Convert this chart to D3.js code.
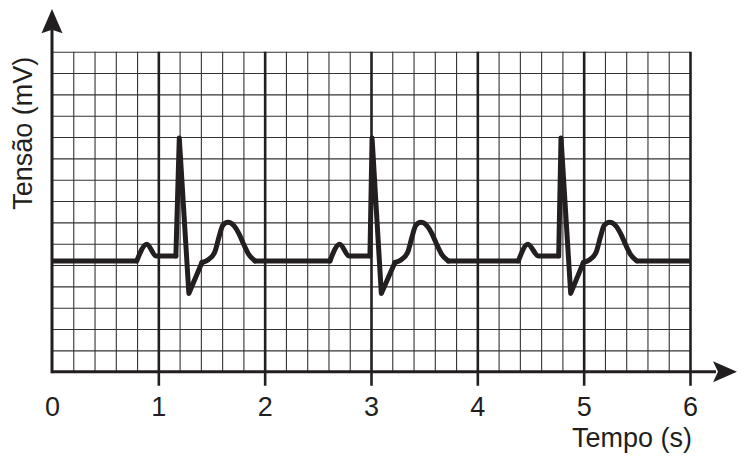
<!DOCTYPE html>
<html>
<head>
<meta charset="utf-8">
<script src="https://cdn.jsdelivr.net/npm/d3@7"></script>
<style>
  body { margin: 0; background: #fff; }
  text { font-family: "Liberation Sans", Arial, sans-serif; fill: #231f20; }
</style>
</head>
<body>
<script>
// Data (time in s, voltage in grid squares)
var tickSeconds = [0, 1, 2, 3, 4, 5, 6];
var baseVolt = 5.19;

// each beat: P start, P peak, PR start, PR end, R, S, J, T wave ... T end
var beat1Time = [0.797, 0.891, 0.98, 1.165, 1.197, 1.287, 1.41, 1.47, 1.53, 1.57, 1.605, 1.655, 1.71, 1.76, 1.80, 1.85, 1.91];
var beat1Volt = [5.19, 5.98, 5.42, 5.42, 10.95, 3.67, 5.12, 5.25, 5.6, 6.3, 6.85, 7.0, 6.85, 6.45, 6.0, 5.5, 5.19];

var beat2Time = [2.614, 2.705, 2.795, 2.99, 3.01, 3.097, 3.225, 3.285, 3.345, 3.385, 3.42, 3.47, 3.525, 3.575, 3.615, 3.665, 3.727];
var beat2Volt = [5.19, 5.98, 5.42, 5.42, 10.95, 3.67, 5.12, 5.25, 5.6, 6.3, 6.85, 7.0, 6.85, 6.45, 6.0, 5.5, 5.19];

var beat3Time = [4.386, 4.475, 4.575, 4.765, 4.787, 4.878, 4.997, 5.057, 5.117, 5.157, 5.192, 5.245, 5.30, 5.35, 5.39, 5.44, 5.50];
var beat3Volt = [5.19, 5.98, 5.42, 5.42, 10.95, 3.67, 5.12, 5.25, 5.6, 6.3, 6.85, 7.0, 6.85, 6.45, 6.0, 5.5, 5.19];

var svgWidth = 747;
var svgHeight = 460;

var margin = {
  top: 51.7,
  right: 57,
  bottom: 88.3,
  left: 52
};

var width = svgWidth - margin.left - margin.right;
var height = svgHeight - margin.top - margin.bottom;
var ink = "#231f20";
var fontSize = "27px";

var svg = d3.select("body")
  .append("svg")
  .attr("width", svgWidth)
  .attr("height", svgHeight);

svg.append("rect")
  .attr("width", svgWidth)
  .attr("height", svgHeight)
  .attr("fill", "#fff");

var chartGroup = svg.append("g")
  .attr("transform", `translate(${margin.left}, ${margin.top})`);

// Scales
var xScale = d3.scaleLinear()
  .domain([0, 6])
  .range([0, width]);

var yScale = d3.scaleLinear()
  .domain([0, 15])
  .range([height, 0]);

// Minor grid (every 0.2 s and every square)
var minorX = d3.range(1, 30).filter(d => d % 5 !== 0).map(d => d / 5);
var minorY = d3.range(1, 16);

var gridX = chartGroup.append("g")
  .attr("transform", `translate(0, ${height})`)
  .call(d3.axisBottom(xScale).tickValues(minorX).tickSize(-height).tickFormat(""));

var gridY = chartGroup.append("g")
  .call(d3.axisLeft(yScale).tickValues(minorY).tickSize(-width).tickFormat(""));

[gridX, gridY].forEach(function(g) {
  g.select(".domain").remove();
  g.selectAll("line")
    .attr("stroke", "#333")
    .attr("stroke-width", 1.1);
});

// Major lines at each second, running a bit below the time axis
var majors = chartGroup.append("g")
  .attr("transform", `translate(0, ${height})`)
  .call(d3.axisBottom(xScale).tickValues(tickSeconds.slice(1)).tickSizeInner(-height).tickFormat(""));
majors.select(".domain").remove();
majors.selectAll("line")
  .attr("y1", 14)
  .attr("stroke", ink)
  .attr("stroke-width", 2.6);

// Tick labels
var labels = chartGroup.append("g")
  .attr("transform", `translate(0, ${height})`)
  .call(d3.axisBottom(xScale).tickValues(tickSeconds).tickSize(0).tickFormat(d3.format("d")));
labels.select(".domain").remove();
labels.selectAll("text")
  .attr("y", 44.3)
  .attr("dy", null)
  .attr("fill", ink)
  .style("font-size", fontSize)
  .style("font-family", "'Liberation Sans', Arial, sans-serif");

// Axes with arrows
chartGroup.append("line")
  .attr("x1", 0).attr("y1", height)
  .attr("x2", 664).attr("y2", height)
  .attr("stroke", ink)
  .attr("stroke-width", 3);

chartGroup.append("path")
  .attr("d", `M685,${height} L661,${height - 10.5} L666,${height} L661,${height + 10.5} Z`)
  .attr("fill", ink);

chartGroup.append("line")
  .attr("x1", 0).attr("y1", height + 1.5)
  .attr("x2", 0).attr("y2", -22)
  .attr("stroke", ink)
  .attr("stroke-width", 3);

chartGroup.append("path")
  .attr("d", "M0,-42.7 L-10.5,-18.5 L0,-22 L10.5,-18.5 Z")
  .attr("fill", ink);

// Axis titles
chartGroup.append("text")
  .attr("transform", `translate(${31.7 - margin.left}, ${133.3 - margin.top}) rotate(-90)`)
  .attr("text-anchor", "middle")
  .style("font-size", fontSize)
  .text("Tensão (mV)");

chartGroup.append("text")
  .attr("x", 692 - margin.left)
  .attr("y", 446.7 - margin.top)
  .attr("text-anchor", "end")
  .style("font-size", fontSize)
  .text("Tempo (s)");

// ECG trace: smooth P and T waves, straight QRS and baseline
var smoothLine = d3.line()
  .x(d => xScale(d[0]))
  .y(d => yScale(d[1]))
  .curve(d3.curveMonotoneX);

var straightLine = d3.line()
  .x(d => xScale(d[0]))
  .y(d => yScale(d[1]));

var pieces = [];
var lastT = 0;
[[beat1Time, beat1Volt], [beat2Time, beat2Volt], [beat3Time, beat3Volt]].forEach(function(b) {
  var pts = b[0].map((t, i) => [t, b[1][i]]);
  pieces.push({ pts: [[lastT, baseVolt], pts[0]], smooth: false });
  pieces.push({ pts: pts.slice(0, 4), smooth: true });
  pieces.push({ pts: pts.slice(3, 7), smooth: false });
  pieces.push({ pts: pts.slice(6), smooth: true });
  lastT = pts[pts.length - 1][0];
});
pieces.push({ pts: [[lastT, baseVolt], [6, baseVolt]], smooth: false });

chartGroup.selectAll(".ecg")
  .data(pieces)
  .enter()
  .append("path")
  .attr("class", "ecg")
  .attr("d", d => (d.smooth ? smoothLine : straightLine)(d.pts))
  .attr("fill", "none")
  .attr("stroke", ink)
  .attr("stroke-width", 5)
  .attr("stroke-linejoin", "round")
  .attr("stroke-linecap", (d, i) => (i === 0 || i === pieces.length - 1) ? "butt" : "round");
</script>
</body>
</html>
